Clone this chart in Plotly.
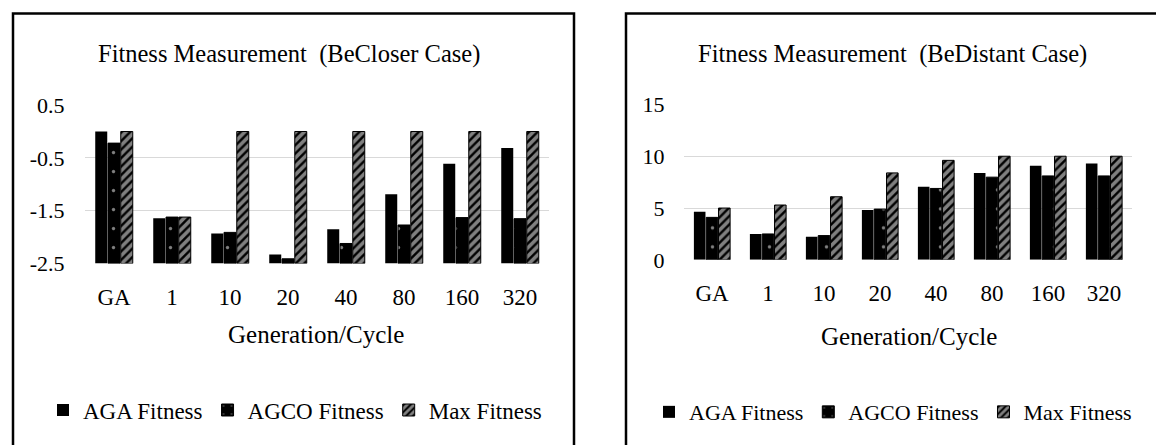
import plotly.graph_objects as go

W, H = 1156, 445

categories = ["GA", "1", "10", "20", "40", "80", "160", "320"]

# BeCloser case (left panel)
closer_aga = [0.0, -1.64, -1.93, -2.33, -1.85, -1.19, -0.61, -0.31]
closer_agco = [-0.22, -1.62, -1.91, -2.41, -2.12, -1.77, -1.63, -1.65]
closer_max = [0.0, -1.62, 0.0, 0.0, 0.0, 0.0, 0.0, 0.0]
closer_base = -2.5
closer_ticks = [-2.5, -1.5, -0.5, 0.5]
closer_ticktext = ["-2.5", "-1.5", "-0.5", "0.5"]

# BeDistant case (right panel)
distant_aga = [4.64, 2.5, 2.24, 4.8, 7.05, 8.39, 9.07, 9.3]
distant_agco = [4.1, 2.5, 2.34, 4.9, 6.89, 7.98, 8.1, 8.1]
distant_max = [5.0, 5.29, 6.09, 8.39, 9.6, 10.0, 10.0, 10.0]
distant_ticks = [0, 5, 10, 15]

series_names = ["AGA Fitness", "AGCO Fitness", "Max Fitness"]

FONT = "Liberation Serif"

# the photographed page is vertically compressed; compensate
V_OFF, V_SCALE = 10.6, 0.947


def px(x):
    return x / W


def py(y):
    fy = (y - V_OFF) / V_SCALE
    return 1 - fy / H


def styles():
    return [
        dict(color="black", line=dict(color="black", width=0)),
        dict(color="black", line=dict(color="black", width=1),
             pattern=dict(shape=".", fgcolor="white", bgcolor="black",
                          size=19, solidity=0.025)),
        dict(color="black", line=dict(color="black", width=1),
             pattern=dict(shape="/", fgcolor="white", bgcolor="black",
                          size=6, solidity=0.6)),
    ]


fig = go.Figure()

left_sets = [closer_aga, closer_agco, closer_max]
for name, vals, mk in zip(series_names, left_sets, styles()):
    fig.add_trace(go.Bar(
        x=categories, y=[v - closer_base for v in vals], base=closer_base,
        name=name, marker=mk, xaxis="x", yaxis="y", legend="legend",
        offsetgroup=name))

right_sets = [distant_aga, distant_agco, distant_max]
for name, vals, mk in zip(series_names, right_sets, styles()):
    fig.add_trace(go.Bar(
        x=categories, y=vals, name=name, marker=mk,
        xaxis="x2", yaxis="y2", legend="legend2", offsetgroup=name))

axis_common = dict(showline=False, zeroline=False)
hidden_tick = dict(ticks="outside", tickcolor="rgba(0,0,0,0)")

fig.update_layout(
    width=W, height=H,
    margin=dict(l=0, r=0, t=0, b=0),
    paper_bgcolor="white", plot_bgcolor="white",
    font=dict(family=FONT, color="black"),
    barmode="group", bargap=0.34, bargroupgap=0.06,
    xaxis=dict(domain=[px(85), px(549)], anchor="y", showgrid=False,
               ticklen=13, tickfont=dict(size=23, family=FONT),
               **hidden_tick, **axis_common),
    yaxis=dict(domain=[py(263), py(104)], anchor="x",
               range=[-2.5, 0.5], tickvals=closer_ticks,
               ticktext=closer_ticktext,
               showgrid=True, gridcolor="#d9d9d9", gridwidth=1,
               ticklen=15, tickfont=dict(size=22, family=FONT),
               **hidden_tick, **axis_common),
    xaxis2=dict(domain=[px(684), px(1132)], anchor="y2", showgrid=False,
                ticklen=13, tickfont=dict(size=23, family=FONT),
                **hidden_tick, **axis_common),
    yaxis2=dict(domain=[py(259.3), py(103.3)], anchor="x2",
                range=[0, 15], tickvals=distant_ticks,
                showgrid=True, gridcolor="#d9d9d9", gridwidth=1,
                ticklen=14, tickfont=dict(size=22, family=FONT),
                **hidden_tick, **axis_common),
    legend=dict(orientation="h", x=px(295), y=py(410), xanchor="center",
                yanchor="middle", font=dict(size=23, family=FONT),
                bgcolor="rgba(0,0,0,0)", itemclick=False),
    legend2=dict(orientation="h", x=px(893), y=py(412), xanchor="center",
                 yanchor="middle", font=dict(size=22, family=FONT),
                 bgcolor="rgba(0,0,0,0)", itemclick=False),
    showlegend=True,
)

annotations = [
    dict(text="Fitness Measurement  (BeCloser Case)", x=px(289), y=py(53),
         font=dict(size=24.5)),
    dict(text="Fitness Measurement  (BeDistant Case)", x=px(892), y=py(53),
         font=dict(size=24.5)),
    dict(text="Generation/Cycle", x=px(316), y=py(334), font=dict(size=25)),
    dict(text="Generation/Cycle", x=px(909), y=py(336), font=dict(size=25)),
]
for a in annotations:
    fig.add_annotation(xref="paper", yref="paper", showarrow=False,
                       xanchor="center", yanchor="middle",
                       font_family=FONT, font_color="black",
                       **{k: v for k, v in a.items()})

fig.add_shape(type="rect", xref="paper", yref="paper",
              x0=px(13), x1=px(574), y0=-0.1, y1=py(12),
              line=dict(color="black", width=2.5))
fig.add_shape(type="rect", xref="paper", yref="paper",
              x0=px(626), x1=px(1160), y0=-0.1, y1=py(12),
              line=dict(color="black", width=2.5))

fig.write_html(
    "out.html",
    config={"displayModeBar": False},
    post_script=(
        "document.body.style.margin='0';"
        "document.body.style.overflow='hidden';"
    ),
)
